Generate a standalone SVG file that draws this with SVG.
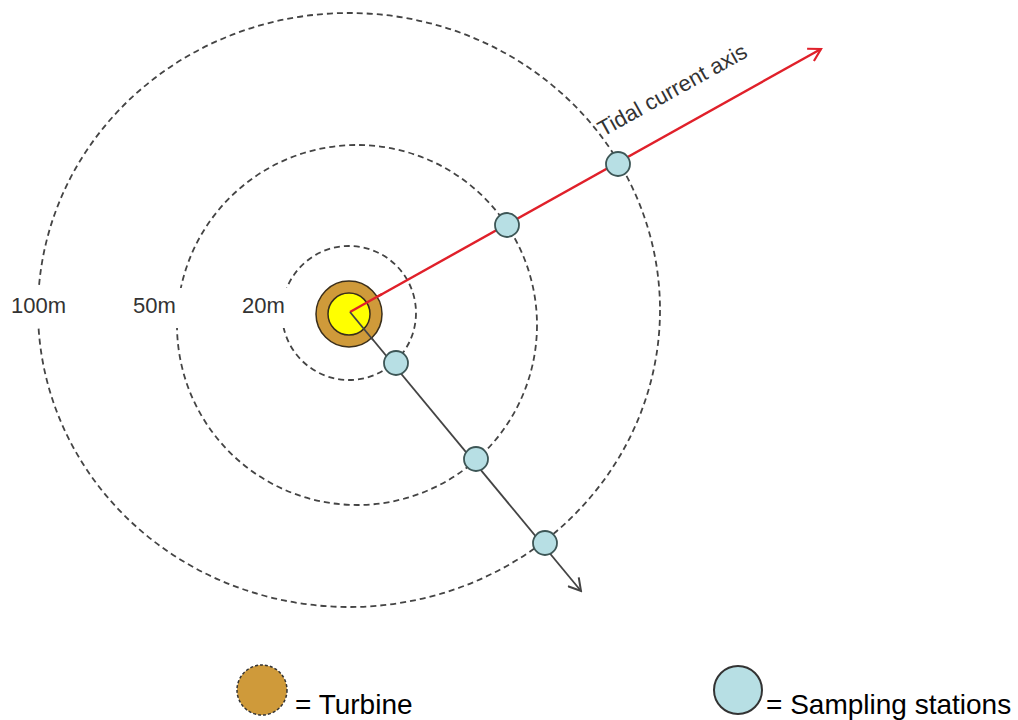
<svg xmlns="http://www.w3.org/2000/svg" width="1018" height="720" viewBox="0 0 1018 720">
<style>
.ring{fill:none;stroke:#444;stroke-width:1.8;stroke-dasharray:6 4}
.st{fill:#b7dfe4;stroke:#3d5656;stroke-width:1.8}
.lbl{font-family:"Liberation Sans",Arial,sans-serif;font-size:22px;fill:#333}
.leg{font-family:"Liberation Sans",Arial,sans-serif;font-size:28px;fill:#000}
</style>
<defs>
<marker id="arR" viewBox="0 0 16 16" refX="14" refY="8" markerWidth="16" markerHeight="16" markerUnits="userSpaceOnUse" orient="auto">
<path d="M2,1 L14,8 L2,15" fill="none" stroke="#e0202a" stroke-width="2.2"/>
</marker>
<marker id="arK" viewBox="0 0 16 16" refX="14" refY="8" markerWidth="16" markerHeight="16" markerUnits="userSpaceOnUse" orient="auto">
<path d="M2,1 L14,8 L2,15" fill="none" stroke="#444" stroke-width="2"/>
</marker>
</defs>
<rect width="1018" height="720" fill="#fff"/>
<g id="rings">
<ellipse class="ring" cx="349" cy="310" rx="311" ry="297"/>
<circle class="ring" cx="357" cy="325" r="180"/>
<circle class="ring" cx="349" cy="313" r="67"/>
</g>
<g id="labels">
<rect x="2" y="288" width="102" height="40" fill="#fff"/>
<rect x="120" y="288" width="92" height="40" fill="#fff"/>
<rect x="230" y="288" width="70" height="40" fill="#fff"/>
<text class="lbl" x="11" y="313">100m</text>
<text class="lbl" x="133" y="313">50m</text>
<text class="lbl" x="242" y="313">20m</text>
</g>
<g id="connectors">
<line x1="350" y1="312" x2="821" y2="49" stroke="#e0202a" stroke-width="2.4" marker-end="url(#arR)"/>
<line x1="350" y1="312" x2="581" y2="591" stroke="#444" stroke-width="1.8" marker-end="url(#arK)"/>
</g>
<g id="turbine">
<circle cx="349" cy="314" r="33" fill="#cf9a3a" stroke="#3a2e1a" stroke-width="1.5"/>
<circle cx="349" cy="314" r="21" fill="#ffff00" stroke="#3a2e1a" stroke-width="1.5"/>
<line x1="350" y1="312" x2="382" y2="294" stroke="#e0202a" stroke-width="2.4"/>
<line x1="350" y1="312" x2="373" y2="340" stroke="#444" stroke-width="1.8"/>
</g>
<g id="stations">
<circle class="st" cx="507" cy="225" r="12"/>
<circle class="st" cx="618" cy="164" r="12"/>
<circle class="st" cx="396" cy="363" r="12"/>
<circle class="st" cx="476" cy="459" r="12"/>
<circle class="st" cx="545" cy="543" r="12"/>
</g>
<g id="axis-label">
<text x="603" y="137" transform="rotate(-29 603 137)" font-family="Liberation Sans,Arial,sans-serif" font-size="22" fill="#333">Tidal current axis</text>
</g>
<g id="legend-turbine">
<circle cx="262" cy="690" r="25" fill="#cf9a3a" stroke="#333" stroke-width="1.5" stroke-dasharray="3 2"/>
<text class="leg" x="295" y="714">= Turbine</text>
</g>
<g id="legend-stations">
<circle cx="738" cy="690" r="24" fill="#b7dfe4" stroke="#333" stroke-width="2"/>
<text class="leg" x="766" y="714">= Sampling stations</text>
</g>
</svg>
